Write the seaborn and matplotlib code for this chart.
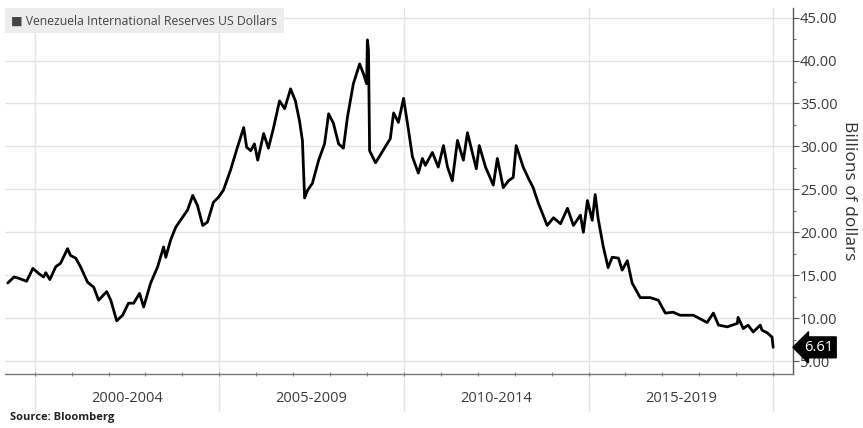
import numpy as np
import pandas as pd
import matplotlib.pyplot as plt
import matplotlib.transforms as mtransforms
from matplotlib.ticker import MultipleLocator, FixedLocator, NullFormatter
import seaborn as sns

# decimal year, billions of US dollars
years = [1999.27, 1999.44, 1999.57, 1999.78, 1999.95, 2000.11, 2000.24, 2000.30, 2000.41, 2000.57,
         2000.70, 2000.89, 2000.97, 2001.11, 2001.24, 2001.43, 2001.60, 2001.73, 2001.95, 2002.06,
         2002.22, 2002.38, 2002.54, 2002.68, 2002.84, 2002.95, 2003.14, 2003.33, 2003.49, 2003.55,
         2003.68, 2003.82, 2004.01, 2004.14, 2004.28, 2004.41, 2004.55, 2004.68, 2004.84, 2004.98,
         2005.11, 2005.30, 2005.49, 2005.66, 2005.74, 2005.85, 2005.95, 2006.04, 2006.20, 2006.33,
         2006.47, 2006.63, 2006.77, 2006.93, 2007.06, 2007.17, 2007.25, 2007.31, 2007.39, 2007.52,
         2007.69, 2007.85, 2007.96, 2008.09, 2008.23, 2008.36, 2008.47, 2008.63, 2008.80, 2008.90,
         2008.99, 2009.01, 2009.04, 2009.07, 2009.23, 2009.36, 2009.50, 2009.63, 2009.72, 2009.85,
         2009.99, 2010.12, 2010.23, 2010.39, 2010.50, 2010.58, 2010.77, 2010.93, 2011.07, 2011.18,
         2011.31, 2011.45, 2011.61, 2011.72, 2011.85, 2011.96, 2012.04, 2012.21, 2012.42, 2012.53,
         2012.69, 2012.83, 2012.96, 2013.04, 2013.23, 2013.37, 2013.50, 2013.64, 2013.88, 2014.05,
         2014.24, 2014.43, 2014.59, 2014.78, 2014.86, 2014.97, 2015.10, 2015.18, 2015.26, 2015.40,
         2015.53, 2015.64, 2015.81, 2015.91, 2016.05, 2016.18, 2016.40, 2016.67, 2016.89, 2017.08,
         2017.29, 2017.48, 2017.84, 2018.21, 2018.38, 2018.52, 2018.76, 2019.03, 2019.05, 2019.19,
         2019.32, 2019.46, 2019.65, 2019.70, 2019.84, 2019.97, 2020.00]
reserves = [14.1, 14.8, 14.65, 14.3, 15.8, 15.2, 14.8, 15.3, 14.5, 16.0,
            16.4, 18.1, 17.3, 17.0, 16.0, 14.2, 13.6, 12.1, 13.1, 12.1,
            9.7, 10.35, 11.75, 11.75, 12.9, 11.3, 14.1, 16.0, 18.3, 17.1,
            19.1, 20.6, 21.8, 22.6, 24.3, 23.1, 20.8, 21.2, 23.5, 24.1,
            24.9, 27.2, 29.9, 32.2, 29.9, 29.5, 30.3, 28.4, 31.5, 29.8,
            32.2, 35.3, 34.4, 36.7, 35.3, 33.0, 30.7, 24.0, 24.9, 25.7,
            28.4, 30.3, 33.8, 32.7, 30.3, 29.8, 33.4, 37.3, 39.6, 38.5,
            37.3, 42.4, 41.2, 29.5, 28.1, 29.0, 30.0, 30.9, 33.9, 32.8,
            35.6, 32.0, 28.8, 26.9, 28.6, 27.8, 29.3, 27.6, 30.1, 27.6,
            26.0, 30.7, 28.4, 31.6, 29.3, 27.4, 30.1, 27.6, 25.5, 28.6,
            25.2, 26.0, 26.4, 30.1, 27.6, 26.3, 25.2, 23.4, 20.8, 21.7,
            21.0, 22.8, 20.8, 22.0, 20.0, 23.7, 21.4, 24.4, 21.6, 18.3,
            15.9, 17.1, 17.0, 15.6, 16.7, 14.1, 12.4, 12.4, 12.1, 10.6,
            10.7, 10.35, 10.35, 9.5, 10.6, 9.2, 9.0, 9.4, 10.1, 8.8,
            9.2, 8.4, 9.2, 8.6, 8.3, 7.8, 6.61]

period_labels = ["2000-2004", "2005-2009", "2010-2014", "2015-2019"]
period_edges = [2000, 2005, 2010, 2015, 2020]
last_value = 6.61

df = pd.DataFrame({"year": years, "reserves": reserves})

sns.set_style("white")
plt.rcParams['font.family'] = ['Open Sans', 'DejaVu Sans']

fig = plt.figure(figsize=(8.63, 4.28), dpi=100)
ax = fig.add_axes([0.006, 0.126, 0.913, 0.855])

grid_col = "#e4e4e4"
for v in range(5, 50, 5):
    ax.axhline(v, color=grid_col, lw=1.0, zorder=0)
blend = mtransforms.blended_transform_factory(ax.transData, ax.transAxes)
for e in period_edges:
    ax.plot([e, e], [-0.1, 1.0], transform=blend, color=grid_col, lw=1.0,
            clip_on=False, zorder=0)

sns.lineplot(data=df, x="year", y="reserves", color="black", lw=2.0, ax=ax)

ax.set_xlim(1999.2, 2020.54)
ax.set_ylim(3.5, 46.1)

# right-hand axis
ax.yaxis.tick_right()
ax.yaxis.set_label_position("right")
ax.yaxis.set_minor_locator(MultipleLocator(2.5))
ax.set_yticks(range(5, 50, 5))
ax.set_yticklabels([f"{v:.2f}" for v in range(5, 50, 5)])
ax.tick_params(axis="y", which="major", length=4, width=0.8, color="#555555",
               labelsize=10.5, labelcolor="#3a3a3a", pad=1)
ax.tick_params(axis="y", which="minor", length=2, width=0.8, color="#777777", right=True)
ax.set_ylabel("Billions of dollars", rotation=270, labelpad=14, fontsize=12.5, color="#333333")

# x axis: year ticks, period labels in between
ax.xaxis.set_major_locator(FixedLocator([e + 2.5 for e in period_edges[:-1]]))
ax.set_xticklabels(period_labels)
ax.xaxis.set_minor_locator(FixedLocator(range(2000, 2021)))
ax.xaxis.set_minor_formatter(NullFormatter())
ax.tick_params(axis="x", which="major", length=0, labelsize=10.5, labelcolor="#3a3a3a", pad=12)
ax.tick_params(axis="x", which="minor", length=3, width=0.8, color="#888888", direction="inout", bottom=True)
ax.set_xlabel("")

for side in ["top", "left"]:
    ax.spines[side].set_visible(False)
ax.spines["right"].set_color("#555555")
ax.spines["bottom"].set_color("#777777")
ax.spines["right"].set_linewidth(1.0)
ax.spines["bottom"].set_linewidth(1.0)

# last value tag
ax.text(1.014, last_value, f"{last_value:.2f}",
        transform=mtransforms.blended_transform_factory(ax.transAxes, ax.transData),
        va="center", ha="left", color="white", fontsize=10.5,
        bbox=dict(boxstyle="larrow,pad=0.2", fc="black", ec="black"))

# legend box
ax.text(0.008, 0.983, "\u25A0 Venezuela International Reserves US Dollars", transform=ax.transAxes,
        va="top", ha="left", fontsize=8.8, color="#444444",
        bbox=dict(boxstyle="square,pad=0.5", fc="#ececec", ec="none"))

fig.text(0.012, 0.018, "Source: Bloomberg", fontsize=8, fontweight="bold", color="#222222")

fig.savefig("out.png", dpi=100)
